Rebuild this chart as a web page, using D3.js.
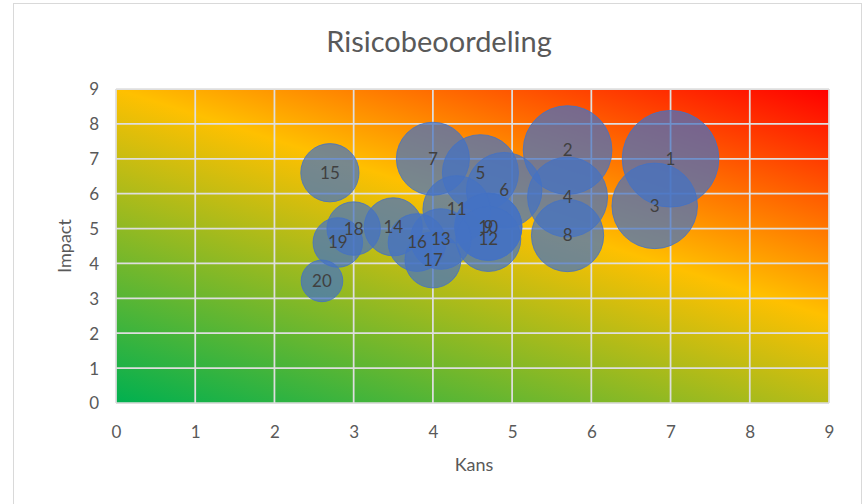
<!DOCTYPE html>
<html>
<head>
<meta charset="utf-8">
<script src="https://cdn.jsdelivr.net/npm/d3@7"></script>
<style>
  html, body { margin: 0; padding: 0; background: #fff; }
  svg { display: block; }
</style>
</head>
<body>
<svg id="chart" width="866" height="504"></svg>
<script>
// ---- data ----
const ids    = [1, 2, 3, 4, 5, 6, 7, 8, 9, 10, 11, 12, 13, 14, 15, 16, 17, 18, 19, 20];
const kans   = [7.0, 5.7, 6.8, 5.7, 4.6, 4.9, 4.0, 5.7, 4.7, 4.7, 4.3, 4.7, 4.1, 3.5, 2.7, 3.8, 4.0, 3.0, 2.8, 2.6];
const impact = [7.0, 7.25, 5.65, 5.9, 6.6, 6.1, 7.0, 4.8, 5.05, 5.05, 5.55, 4.7, 4.7, 5.05, 6.6, 4.6, 4.1, 5.0, 4.6, 3.5];
const sizes  = [49, 41.3, 38.4, 33.6, 30.4, 29.9, 28, 27.4, 23.7, 23.7, 23.9, 22.1, 19.3, 17.7, 17.8, 17.5, 16.4, 15, 12.9, 9.1];
const xTicks = [0, 1, 2, 3, 4, 5, 6, 7, 8, 9];
const yTicks = [0, 1, 2, 3, 4, 5, 6, 7, 8, 9];
const title = "Risicobeoordeling";
const xTitle = "Kans";
const yTitle = "Impact";

const points = ids.map((id, i) => ({ id, x: kans[i], y: impact[i], s: sizes[i] }));

const svg = d3.select("#chart");
const font = "Lato, 'Open Sans', 'Noto Sans', sans-serif";

// outer chart border
svg.append("rect")
  .attr("x", 13.5).attr("y", 3.5).attr("width", 848).attr("height", 520)
  .attr("fill", "#fff").attr("stroke", "#d9d9d9").attr("stroke-width", 1);

const x = d3.scaleLinear().domain([0, 9]).range([116, 829]);
const y = d3.scaleLinear().domain([0, 9]).range([403, 89]);
const r = d3.scaleSqrt().domain([0, d3.max(sizes)]).range([0, 48.3]);

// gradient background
const defs = svg.append("defs");
const grad = defs.append("linearGradient")
  .attr("id", "bg").attr("gradientUnits", "userSpaceOnUse")
  .attr("x1", x(0)).attr("y1", y(0)).attr("x2", 273).attr("y2", -88);
grad.append("stop").attr("offset", 0).attr("stop-color", "#00b050");
grad.append("stop").attr("offset", 0.58).attr("stop-color", "#ffc000");
grad.append("stop").attr("offset", 1).attr("stop-color", "#ff0000");

svg.append("clipPath").attr("id", "plotclip").append("rect")
  .attr("x", x(0)).attr("y", y(9)).attr("width", x(9) - x(0)).attr("height", y(0) - y(9));

svg.append("rect")
  .attr("x", x(0)).attr("y", y(9)).attr("width", x(9) - x(0)).attr("height", y(0) - y(9))
  .attr("fill", "url(#bg)");

// gridlines
const grid = svg.append("g");
grid.selectAll("line.v").data(xTicks).join("line")
  .attr("x1", d => x(d)).attr("x2", d => x(d)).attr("y1", y(0)).attr("y2", y(9))
  .attr("stroke", "#dedede").attr("stroke-width", 1.75);
grid.selectAll("line.h").data(yTicks).join("line")
  .attr("y1", d => y(d)).attr("y2", d => y(d)).attr("x1", x(0)).attr("x2", x(9))
  .attr("stroke", "#dedede").attr("stroke-width", 1.75);

// axes (labels only)
const xAxis = svg.append("g").attr("transform", `translate(0,${y(0) + 20})`)
  .call(d3.axisBottom(x).tickValues(xTicks).tickSize(0).tickFormat(d3.format("d")));
const yAxis = svg.append("g").attr("transform", `translate(${x(0) - 14},0)`)
  .call(d3.axisLeft(y).tickValues(yTicks).tickSize(0).tickFormat(d3.format("d")));
[xAxis, yAxis].forEach(a => {
  a.select(".domain").remove();
  a.selectAll("text").attr("fill", "#595959").style("font-family", font).style("font-size", "17px");
});
xAxis.selectAll("text").attr("dy", "0.71em");
yAxis.selectAll("text").attr("dy", "0.35em");

// bubbles
const g = svg.append("g").attr("clip-path", "url(#plotclip)");
g.selectAll("circle").data(points).join("circle")
  .attr("cx", d => x(d.x)).attr("cy", d => y(d.y)).attr("r", d => r(d.s))
  .attr("fill", "#4472c4").attr("fill-opacity", 0.72)
  .attr("stroke", "#4472c4").attr("stroke-opacity", 0.8).attr("stroke-width", 1);

// labels
svg.append("g").selectAll("text").data(points).join("text")
  .attr("x", d => x(d.x)).attr("y", d => y(d.y))
  .attr("text-anchor", "middle").attr("dy", "0.35em")
  .attr("fill", "#404040").style("font-family", font).style("font-size", "17px")
  .text(d => d.id);

// titles
svg.append("text").attr("x", 439).attr("y", 52).attr("text-anchor", "middle")
  .attr("fill", "#595959").style("font-family", font).style("font-size", "29px").text(title);
svg.append("text").attr("x", 474).attr("y", 471).attr("text-anchor", "middle")
  .attr("fill", "#595959").style("font-family", font).style("font-size", "18px").text(xTitle);
svg.append("text").attr("transform", "translate(71,246) rotate(-90)").attr("text-anchor", "middle")
  .attr("fill", "#595959").style("font-family", font).style("font-size", "18px").text(yTitle);
</script>
</body>
</html>
